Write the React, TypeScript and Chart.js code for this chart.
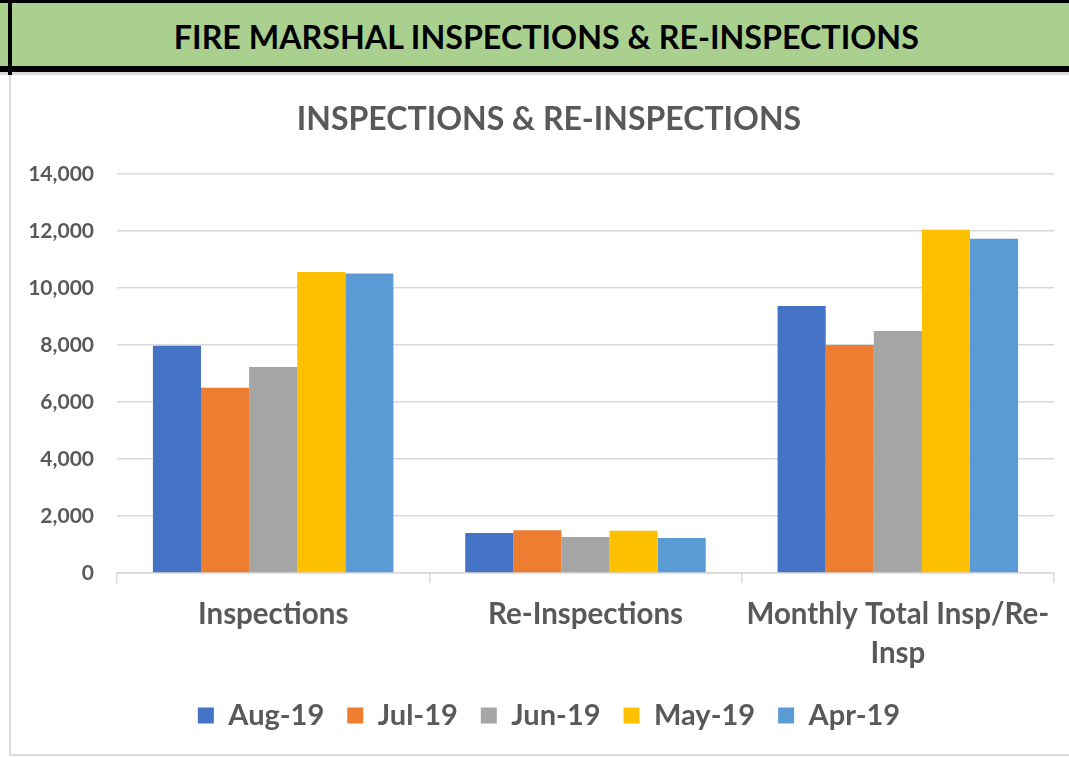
import React, { useEffect, useRef } from 'react';
import { Chart, registerables } from 'chart.js';

Chart.register(...registerables);

const pageTitle = 'FIRE MARSHAL INSPECTIONS & RE-INSPECTIONS';
const chartTitle = 'INSPECTIONS & RE-INSPECTIONS';
const categories: (string | string[])[] = ['Inspections', 'Re-Inspections', ['Monthly Total Insp/Re-', 'Insp']];
const seriesNames = ['Aug-19', 'Jul-19', 'Jun-19', 'May-19', 'Apr-19'];
const aug19 = [7970, 1400, 9370];
const jul19 = [6500, 1500, 8000];
const jun19 = [7230, 1260, 8490];
const may19 = [10560, 1480, 12040];
const apr19 = [10510, 1230, 11730];
const seriesColors = ['#4472C4', '#ED7D31', '#A5A5A5', '#FFC000', '#5B9BD5'];
const yMin = 0;
const yMax = 14000;
const yStep = 2000;

const TEXT = '#595959';
const GRID = '#D9D9D9';
const FONT = 'Lato, "Open Sans", sans-serif';

export default function App() {
  const canvasRef = useRef<HTMLCanvasElement | null>(null);
  const headRef = useRef<HTMLSpanElement | null>(null);

  useEffect(() => {
    let chart: Chart | null = null;
    let cancelled = false;
    const build = () => {
      if (cancelled || !canvasRef.current) return;
      if (headRef.current) {
        const w = headRef.current.getBoundingClientRect().width;
        if (w > 0) headRef.current.style.transform = `scaleX(${745 / w})`;
      }
      const values = [aug19, jul19, jun19, may19, apr19];
      chart = new Chart(canvasRef.current, {
        type: 'bar',
        data: {
          labels: categories,
          datasets: seriesNames.map((name, i) => ({
            label: name,
            data: values[i],
            backgroundColor: seriesColors[i],
            borderWidth: 0,
            barPercentage: 1,
            categoryPercentage: 0.77,
          })),
        },
        options: {
          animation: false,
          responsive: false,
          layout: { padding: { left: 0, right: 0, top: 0, bottom: 16 } },
          plugins: {
            title: {
              display: true,
              text: chartTitle,
              color: TEXT,
              font: { family: FONT, size: 32, weight: 'bold' },
              padding: { top: 24, bottom: 35.6 },
            },
            legend: {
              position: 'bottom',
              labels: {
                color: TEXT,
                font: { family: FONT, size: 29, weight: 'bold' },
                boxWidth: 16,
                boxHeight: 16,
                padding: 23,
              },
            },
            tooltip: { enabled: false },
          },
          scales: {
            x: {
              offset: true,
              grid: {
                display: true,
                drawOnChartArea: false,
                drawTicks: true,
                tickLength: 10,
                offset: true,
                color: GRID,
                lineWidth: 1.5,
              },
              border: { display: true, color: GRID, width: 1.5 },
              ticks: {
                color: TEXT,
                font: { family: FONT, size: 29.5, weight: 'bold', lineHeight: 1.32 },
                padding: 12,
                maxRotation: 0,
                autoSkip: false,
              },
              afterFit: (scale: any) => {
                scale.height = 105;
              },
            },
            y: {
              min: yMin,
              max: yMax,
              ticks: {
                stepSize: yStep,
                color: TEXT,
                font: { family: FONT, size: 21, weight: 'bold' },
                padding: 23,
                callback: (v: any) => Number(v).toLocaleString('en-US'),
              },
              grid: { color: GRID, lineWidth: 1.5, drawTicks: false },
              border: { display: false },
              afterFit: (scale: any) => {
                scale.width = 106;
              },
            },
            yRight: {
              position: 'right',
              display: true,
              min: yMin,
              max: yMax,
              ticks: { display: false },
              grid: { display: false, drawTicks: false },
              border: { display: false },
              afterFit: (scale: any) => {
                scale.width = 33;
              },
            },
          },
        } as any,
      });
    };
    const fontsAny: any = (document as any).fonts;
    if (fontsAny && fontsAny.load) {
      Promise.all([
        fontsAny.load('bold 29px Lato'),
        fontsAny.load('bold 21px Lato'),
      ])
        .catch(() => null)
        .then(build);
    } else {
      build();
    }
    return () => {
      cancelled = true;
      if (chart) chart.destroy();
    };
  }, []);

  return (
    <div
      style={{
        position: 'absolute',
        left: 0,
        top: 0,
        width: 1069,
        height: 757,
        overflow: 'hidden',
        background: '#fff',
      }}
    >
      {/* header band */}
      <div style={{ position: 'absolute', left: 0, top: 0, width: 1069, height: 3, background: '#000' }} />
      <div style={{ position: 'absolute', left: 0, top: 3, width: 1069, height: 63, background: '#A9D08E' }} />
      <div style={{ position: 'absolute', left: 0, top: 66, width: 1069, height: 6, background: '#000' }} />
      <div style={{ position: 'absolute', left: 0, top: 72, width: 1069, height: 3, background: '#DADADA' }} />
      <div style={{ position: 'absolute', left: 8, top: 0, width: 4, height: 75, background: '#000' }} />
      <div
        style={{
          position: 'absolute',
          left: 0,
          top: 4,
          width: 1093,
          height: 63,
          display: 'flex',
          alignItems: 'center',
          justifyContent: 'center',
        }}
      >
        <span
          ref={headRef}
          style={{
            fontFamily: FONT,
            fontWeight: 700,
            fontSize: 33,
            color: '#000',
            whiteSpace: 'nowrap',
            display: 'inline-block',
            transformOrigin: 'center center',
          }}
        >
          {pageTitle}
        </span>
      </div>
      {/* chart frame */}
      <div style={{ position: 'absolute', left: 9, top: 75, width: 2, height: 681, background: '#DADADA' }} />
      <div style={{ position: 'absolute', left: 9, top: 754, width: 1060, height: 2, background: '#DADADA' }} />
      <canvas
        ref={canvasRef}
        width={1076}
        height={680}
        style={{ position: 'absolute', left: 11, top: 76, width: 1076, height: 680 }}
      />
    </div>
  );
}
